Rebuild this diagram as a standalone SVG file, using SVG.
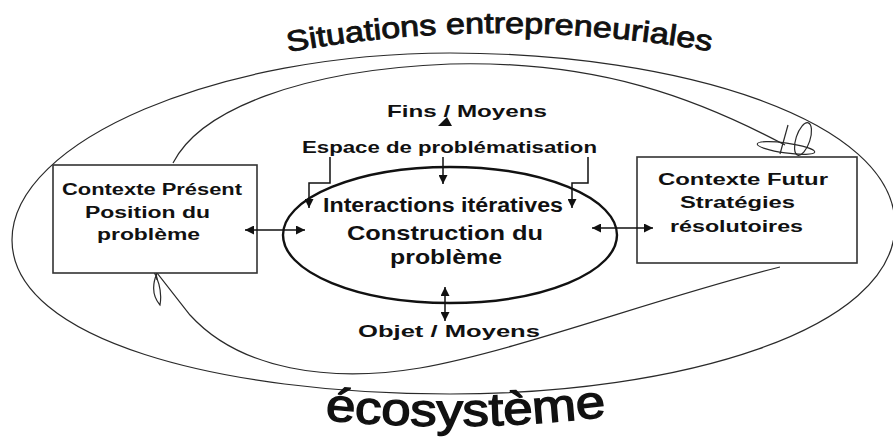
<svg xmlns="http://www.w3.org/2000/svg" width="893" height="439" viewBox="0 0 893 439">
<defs>
<style>
.t{font-family:"Liberation Sans",Arial,sans-serif;fill:#111;}
.b{font-weight:bold;}
.box{fill:#fff;stroke:#333;stroke-width:1.6;}
.thin{fill:none;stroke:#2a2a2a;stroke-width:1.2;}
.con{fill:none;stroke:#111;stroke-width:1.5;}
</style>
<marker id="ah" viewBox="0 0 10 10" refX="10" refY="5" markerWidth="9" markerHeight="9" markerUnits="userSpaceOnUse" orient="auto-start-reverse">
<path d="M0,0 L10,5 L0,10 z" fill="#111"/>
</marker>
<path id="arcTop" d="M288,52 Q500,14 715,52"/>
<path id="arcBot" d="M325,420 Q466,434 610,416"/>
</defs>
<rect width="893" height="439" fill="#fff"/>

<g id="ecosystem">
<path class="thin" d="M12,240 C12,140 220,53 450,53 C680,53 895,120 895,225 C895,330 680,394 450,394 C220,394 12,340 12,240 Z"/>
<text class="t" font-size="46" stroke="#111" stroke-width="1.4"><textPath href="#arcBot" textLength="282" lengthAdjust="spacingAndGlyphs">écosystème</textPath></text>
</g>

<g id="situations">
<text class="t" font-size="29" stroke="#111" stroke-width="0.9"><textPath href="#arcTop" textLength="425" lengthAdjust="spacingAndGlyphs">Situations entrepreneuriales</textPath></text>
</g>

<g id="cycle">
<path class="thin" d="M173,163 C200,110 300,70 450,64 C600,60 700,100 785,145"/>
<ellipse class="thin" cx="786" cy="148" rx="29" ry="5" transform="rotate(8 786 148)"/>
<ellipse class="thin" cx="803" cy="139" rx="7" ry="17" transform="rotate(18 803 139)"/>
<path class="thin" d="M788,125 L780,154"/>
<path class="thin" d="M780,267 C650,300 520,350 420,368 C330,383 240,370 190,315 L157,273 Q149,292 160,305 Q163,288 153,270"/>
<path class="thin" d="M155,263 L157,280"/>
</g>

<g id="left-box">
<rect class="box" x="53" y="165" width="204" height="108"/>
<text class="t b" font-size="16" x="62" y="195" textLength="180" lengthAdjust="spacingAndGlyphs">Contexte Présent</text>
<text class="t b" font-size="16" x="85" y="218" textLength="125" lengthAdjust="spacingAndGlyphs">Position du</text>
<text class="t b" font-size="16" x="97" y="240" textLength="103" lengthAdjust="spacingAndGlyphs">problème</text>
</g>

<g id="right-box">
<rect class="box" x="637" y="157" width="220" height="106"/>
<text class="t b" font-size="16" x="658" y="185" textLength="170" lengthAdjust="spacingAndGlyphs">Contexte Futur</text>
<text class="t b" font-size="16" x="680" y="208" textLength="115" lengthAdjust="spacingAndGlyphs">Stratégies</text>
<text class="t b" font-size="16" x="670" y="232" textLength="133" lengthAdjust="spacingAndGlyphs">résolutoires</text>
</g>

<g id="center">
<ellipse cx="450" cy="235" rx="167" ry="68" fill="none" stroke="#111" stroke-width="2.4"/>
<text class="t b" font-size="20" x="323" y="212" textLength="240" lengthAdjust="spacingAndGlyphs">Interactions itératives</text>
<text class="t b" font-size="21" x="347" y="240" textLength="196" lengthAdjust="spacingAndGlyphs">Construction du</text>
<text class="t b" font-size="21" x="390" y="264" textLength="112" lengthAdjust="spacingAndGlyphs">problème</text>
</g>

<g id="fins">
<text class="t b" font-size="17" x="387" y="117" textLength="160" lengthAdjust="spacingAndGlyphs">Fins / Moyens</text>
</g>
<g id="espace">
<text class="t b" font-size="17" x="302" y="153" textLength="295" lengthAdjust="spacingAndGlyphs">Espace de problématisation</text>
</g>
<g id="objet">
<text class="t b" font-size="17" x="358" y="337" textLength="182" lengthAdjust="spacingAndGlyphs">Objet / Moyens</text>
</g>

<g id="connectors">
<polygon points="438,126 452,126 447,117" fill="#111"/>
<path class="con" d="M443,157 V184" marker-end="url(#ah)"/>
<path class="con" d="M330,157 V183 H309 V208" marker-end="url(#ah)"/>
<path class="con" d="M588,157 V183 H572 V208" marker-end="url(#ah)"/>
<path class="con" d="M245,230 H305" marker-start="url(#ah)" marker-end="url(#ah)"/>
<path class="con" d="M592,228 H653" marker-start="url(#ah)" marker-end="url(#ah)"/>
<path class="con" d="M445,287 V321" marker-start="url(#ah)" marker-end="url(#ah)"/>
</g>
</svg>
